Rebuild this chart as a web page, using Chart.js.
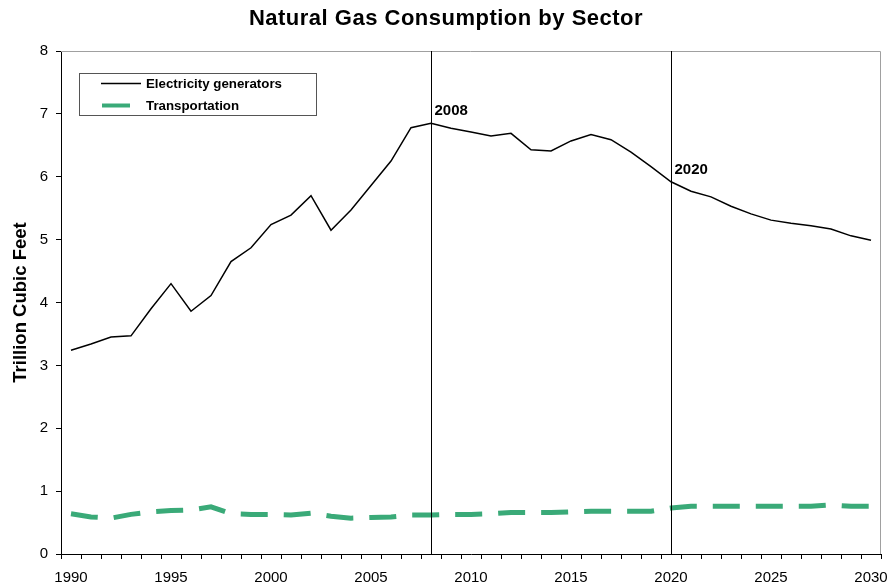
<!DOCTYPE html>
<html><head><meta charset="utf-8">
<script src="https://cdn.jsdelivr.net/npm/chart.js@4/dist/chart.umd.min.js"></script>
<style>html,body{margin:0;padding:0;background:#fff}#wrap{width:890px;height:588px}</style>
</head><body><div id="wrap"><canvas id="c" width="890" height="588"></canvas></div>
<script>
const years = [];
for (let y = 1990; y <= 2030; y++) years.push(String(y));
const electricity = [3.24,3.34,3.45,3.47,3.90,4.30,3.86,4.11,4.65,4.87,5.24,5.39,5.70,5.15,5.47,5.86,6.25,6.78,6.85,6.77,6.71,6.65,6.69,6.43,6.41,6.57,6.67,6.59,6.39,6.16,5.92,5.77,5.68,5.53,5.41,5.31,5.26,5.22,5.17,5.06,4.99];
const transportation = [0.64,0.59,0.57,0.63,0.67,0.69,0.70,0.75,0.64,0.63,0.63,0.62,0.65,0.60,0.57,0.58,0.59,0.62,0.62,0.63,0.63,0.64,0.66,0.66,0.66,0.67,0.68,0.68,0.68,0.68,0.73,0.76,0.76,0.76,0.76,0.76,0.76,0.76,0.78,0.76,0.76];
const markerYears = ['2008','2020'];
const seriesNames = ['Electricity generators','Transportation'];
const chartTitle = 'Natural Gas Consumption by Sector';
const FONT = '"Liberation Sans", Arial, sans-serif';
const GREEN = '#3aaa78';

const overlay = {
  id: 'overlay',
  afterDraw(chart) {
    const ctx = chart.ctx;
    ctx.save();
    ctx.fillStyle = '#000';
    ctx.font = 'bold 22px ' + FONT;
    ctx.textAlign = 'center'; ctx.textBaseline = 'middle';
    if ('letterSpacing' in ctx) ctx.letterSpacing = '0.5px';
    ctx.fillText(chartTitle, 446, 19);
    if ('letterSpacing' in ctx) ctx.letterSpacing = '0px';
    ctx.restore();
  },
  afterDatasetsDraw(chart) {
    const ctx = chart.ctx, a = chart.chartArea, xs = chart.scales.x;
    ctx.save();
    ctx.strokeStyle = '#a0a0a0'; ctx.lineWidth = 1;
    ctx.beginPath();
    ctx.moveTo(a.left, a.top + 0.5); ctx.lineTo(a.right - 0.5, a.top + 0.5); ctx.lineTo(a.right - 0.5, a.bottom);
    ctx.stroke();
    ctx.strokeStyle = '#000'; ctx.fillStyle = '#000'; ctx.lineWidth = 1;
    ctx.font = 'bold 15px ' + FONT; ctx.textBaseline = 'alphabetic'; ctx.textAlign = 'left';
    markerYears.forEach((yr) => {
      const idx = years.indexOf(yr);
      const x = Math.round(xs.getPixelForValue(idx)) + 0.5;
      ctx.beginPath(); ctx.moveTo(x, a.top); ctx.lineTo(x, a.bottom); ctx.stroke();
      const yv = chart.scales.y.getPixelForValue(electricity[idx]);
      ctx.fillText(yr, x + 3, yv - 8);
    });
    const bx = 79.5, by = 73.5, bw = 237, bh = 42;
    ctx.fillStyle = '#fff'; ctx.fillRect(bx, by, bw, bh);
    ctx.strokeStyle = '#555'; ctx.lineWidth = 1; ctx.strokeRect(bx, by, bw, bh);
    ctx.strokeStyle = '#000'; ctx.lineWidth = 1.5;
    ctx.beginPath(); ctx.moveTo(101, 83.5); ctx.lineTo(141, 83.5); ctx.stroke();
    ctx.strokeStyle = GREEN; ctx.lineWidth = 4;
    ctx.beginPath(); ctx.moveTo(102, 105.5); ctx.lineTo(130, 105.5); ctx.stroke();
    ctx.fillStyle = '#000'; ctx.font = 'bold 13.3px ' + FONT; ctx.textBaseline = 'middle';
    ctx.fillText(seriesNames[0], 146, 84);
    ctx.fillText(seriesNames[1], 146, 106);
    ctx.restore();
  }
};

new Chart(document.getElementById('c'), {
  type: 'line',
  data: {
    labels: years,
    datasets: [
      { label: seriesNames[0], data: electricity, borderColor: '#000', borderWidth: 1.5, pointRadius: 0, tension: 0, fill: false },
      { label: seriesNames[1], data: transportation, borderColor: GREEN, borderWidth: 5, borderDash: [27, 16], borderCapStyle: 'butt', pointRadius: 0, tension: 0, fill: false }
    ]
  },
  options: {
    responsive: false,
    animation: false,
    devicePixelRatio: 1,
    layout: { padding: { left: 0, right: 9, top: 51, bottom: 0 } },
    plugins: {
      legend: { display: false },
      tooltip: { enabled: false },
      title: { display: false }
    },
    scales: {
      x: {
        type: 'category', offset: true,
        grid: { offset: true, drawOnChartArea: false, tickLength: 5, color: '#000' },
        border: { color: '#000' },
        ticks: { autoSkip: false, maxRotation: 0, minRotation: 0, padding: 10, color: '#000',
          font: { family: FONT, size: 15 },
          callback: function(v) { const l = years[v]; return (+l % 5 === 0) ? l : ''; } },
        afterFit: (s) => { s.height = 34; s.paddingLeft = 0; s.paddingRight = 0; }
      },
      y: {
        min: 0, max: 8,
        grid: { drawOnChartArea: false, tickLength: 5, color: '#000' },
        border: { color: '#000' },
        ticks: { stepSize: 1, padding: 8, color: '#000', font: { family: FONT, size: 15 } },
        title: { display: true, text: 'Trillion Cubic Feet', color: '#000', font: { family: FONT, size: 18.5, weight: 'bold' }, padding: { top: 10, bottom: 0 } },
        afterFit: (s) => { s.width = 61; s.paddingTop = 0; s.paddingBottom = 0; }
      }
    }
  },
  plugins: [overlay]
});
</script></body></html>
